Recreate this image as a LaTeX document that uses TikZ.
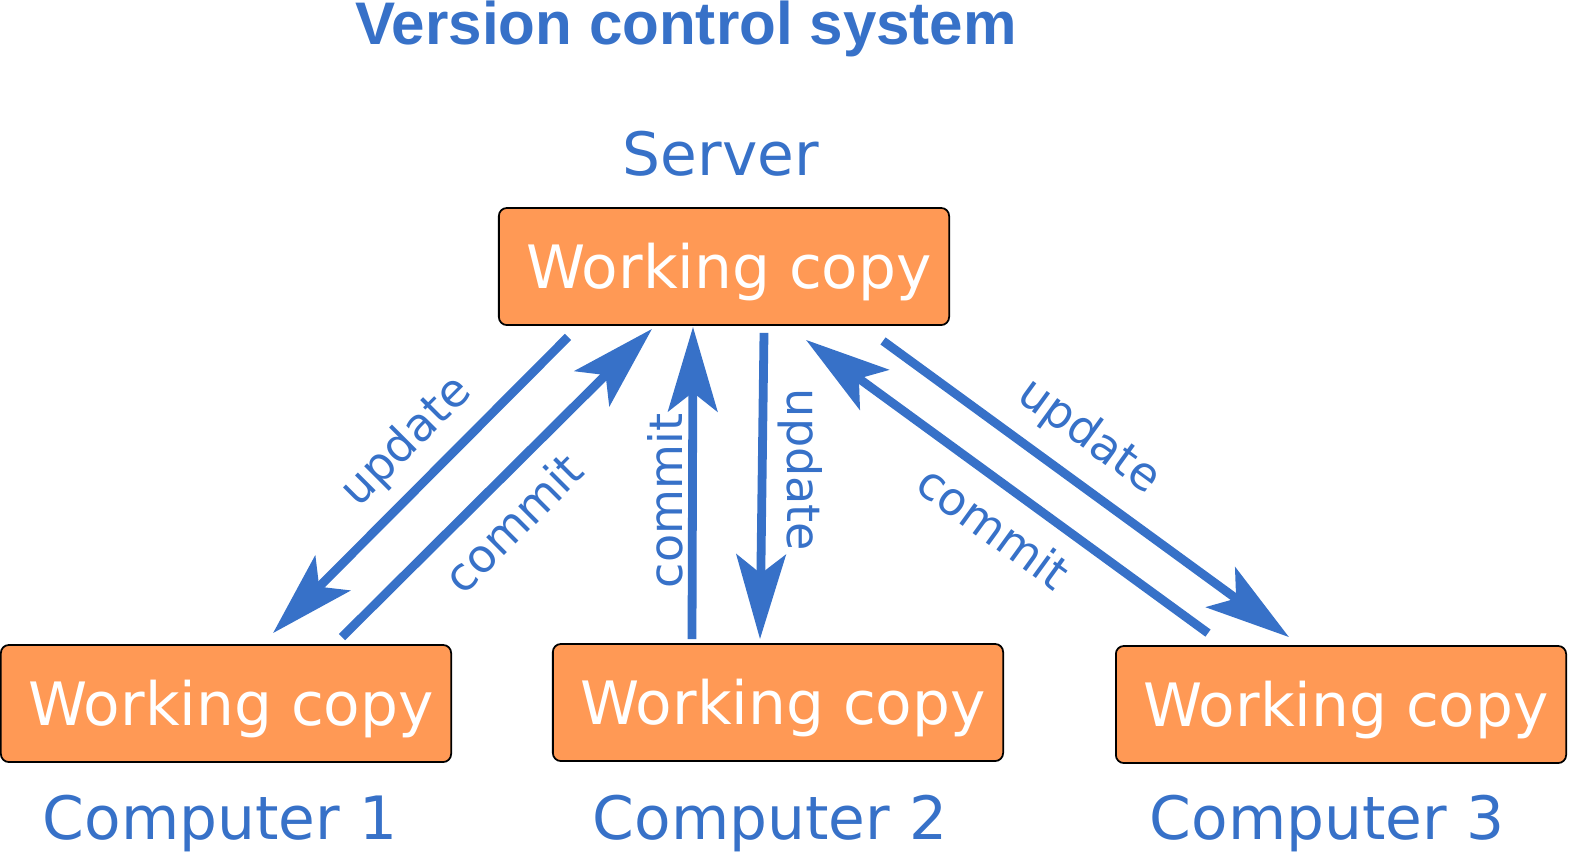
\documentclass[tikz,border=0pt]{standalone}
\usepackage{fontspec}
\setmainfont{DejaVu Sans}
\newfontfamily\titlefont{Liberation Sans}
\usetikzlibrary{arrows.meta}
\definecolor{vcsblue}{HTML}{3771C8}
\definecolor{vcsorange}{HTML}{FF9955}

\begin{document}
\begin{tikzpicture}[x=0.01cm, y=-0.01cm,
    wcopy/.style={draw=black, line width=0.5pt, fill=vcsorange, rounded corners=0.08cm,
      minimum width=4.5cm, minimum height=1.17cm, text=white,
      font=\fontsize{17}{20}\selectfont, text height=12.4pt, text depth=0pt},
    place/.style={text=vcsblue, font=\fontsize{17}{20}\selectfont, anchor=base},
    flow/.style={draw=vcsblue, line width=2.5pt,
      -{Stealth[length=24pt, width=14pt, inset=5.4pt]}},
    tag/.style={text=vcsblue, font=\fontsize{13.1}{15}\selectfont}]
    \useasboundingbox (0,0) rectangle (1575,857);
    \node[anchor=base, text=vcsblue, font=\titlefont\bfseries\fontsize{17.1}{20}\selectfont]
      (title) at (686,44) {Version control system};

    \node[place] (srvname) at (721,175) {Server};
    \node[wcopy] (srv) at (724,266.5) {\hspace*{0.1cm}Working copy};
    \node[wcopy] (pc1) at (226,703.5) {\hspace*{0.1cm}Working copy};
    \node[wcopy] (pc2) at (778,702.5) {\hspace*{0.1cm}Working copy};
    \node[wcopy] (pc3) at (1341,704.5) {\hspace*{0.1cm}Working copy};
    \node[place] (pc1name) at (220,839) {Computer 1};
    \node[place] (pc2name) at (770,839) {Computer 2};
    \node[place] (pc3name) at (1327,839) {Computer 3};

    \draw[flow] ([shift={(-156,11)}]srv.south) -- ([shift={(47,-11)}]pc1.north);
    \draw[flow] ([shift={(116,-7)}]pc1.north) -- ([shift={(-72,3)}]srv.south);
    \draw[flow] ([shift={(-86,-4)}]pc2.north) -- ([shift={(-31,1)}]srv.south);
    \draw[flow] ([shift={(40,7)}]srv.south) -- ([shift={(-18,-4)}]pc2.north);
    \draw[flow] ([shift={(-133,-12)}]pc3.north) -- ([shift={(82,14)}]srv.south);
    \draw[flow] ([shift={(159,15)}]srv.south) -- ([shift={(-52,-8)}]pc3.north);

    \node[tag, rotate=45] (up1) at (407,442) {update};
    \node[tag, rotate=45] (ci1) at (513,523) {commit};
    \node[tag, rotate=90] (ci2) at (665,501) {commit};
    \node[tag, rotate=-90] (up2) at (800,470) {update};
    \node[tag, rotate=-36] (up3) at (1089,437) {update};
    \node[tag, rotate=-36] (ci3) at (994,527) {commit};
\end{tikzpicture}
\end{document}
